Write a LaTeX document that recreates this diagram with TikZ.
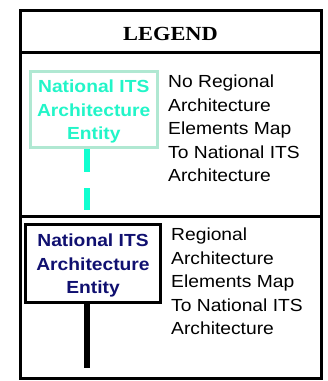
\documentclass[tikz,border=0pt]{standalone}
\usepackage{fontspec}
\setmainfont[FakeStretch=1.1]{Liberation Sans}
\newfontfamily\legendfont[FakeStretch=1.12]{Liberation Serif}
\definecolor{mintborder}{HTML}{B0E8D2}
\definecolor{aquatext}{HTML}{22F5C8}
\definecolor{aqualine}{HTML}{10FFD0}
\definecolor{navytext}{HTML}{101070}
\begin{document}
\begin{tikzpicture}[x=1pt,y=-1pt,
  frame/.style={line width=3pt},
  entitybox/.style={line width=3pt, inner sep=0pt},
  entitytext/.style={font=\fontsize{17.5}{23.5}\selectfont\bfseries, align=center},
  desctext/.style={font=\fontsize{17.5}{23.5}\selectfont, align=left, anchor=north west, inner sep=0pt}
]
\useasboundingbox (0,0) rectangle (328,381);
% outer frame and dividers
\draw[frame] (20,10) rectangle (321,378);
\draw[frame] (20,52) -- (321,52);
\draw[frame] (20,216.5) -- (321,216.5);
\node[font=\fontsize{20}{24}\selectfont\bfseries\legendfont] (title) at (170.5,33.5) {LEGEND};
% top entity
\node[entitybox, draw=mintborder, minimum width=126.5pt, minimum height=76pt] (topbox) at (93.75,109.5) {};
\node[entitytext, text=aquatext] (toptext) at (93.75,111.5) {National ITS\\Architecture\\Entity};
\coordinate (topend) at (87,210);
\draw[aqualine, line width=6pt, dash pattern=on 22.7pt off 16.6pt] (87,149) -- (topend);
\node[desctext] (topdesc) at (168,75) {No Regional\\Architecture\\Elements Map\\To National ITS\\Architecture};
% bottom entity
\node[entitybox, draw=black, minimum width=135pt, minimum height=78pt] (botbox) at (93,263) {};
\node[entitytext, text=navytext] (bottext) at (93,265.5) {National ITS\\Architecture\\Entity};
\coordinate (botend) at (87,368);
\draw[black, line width=6pt] (botbox.south -| botend) -- (botend);
\node[desctext] (botdesc) at (171,228) {Regional\\Architecture\\Elements Map\\To National ITS\\Architecture};
\end{tikzpicture}
\end{document}
